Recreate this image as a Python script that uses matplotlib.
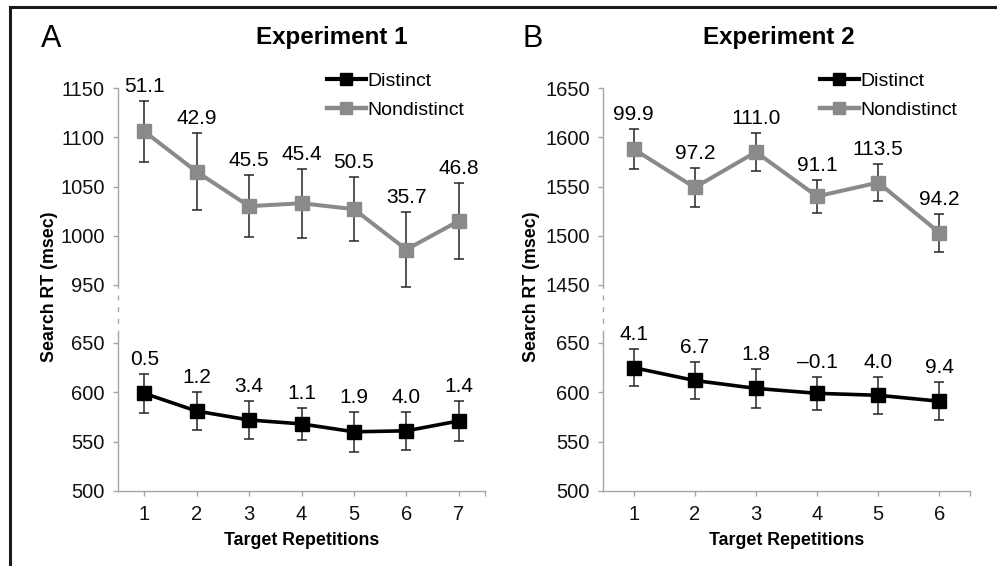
import matplotlib
matplotlib.use('Agg')
import matplotlib.pyplot as plt
from matplotlib.lines import Line2D

plt.rcParams['font.family'] = ['Liberation Sans', 'DejaVu Sans']

# ---------------- data ----------------
reps1 = [1, 2, 3, 4, 5, 6, 7]
e1_distinct = [599, 581, 572, 568, 560, 561, 571]
e1_distinct_err = [19.5, 19, 19.5, 16.5, 20, 19, 20.5]
e1_nondistinct = [1106, 1065, 1030, 1033, 1027, 986, 1015]
e1_nondistinct_err = [31, 39, 31.5, 35, 32.5, 38, 39]
e1_distinct_labels = ['0.5', '1.2', '3.4', '1.1', '1.9', '4.0', '1.4']
e1_nondistinct_labels = ['51.1', '42.9', '45.5', '45.4', '50.5', '35.7', '46.8']

reps2 = [1, 2, 3, 4, 5, 6]
e2_distinct = [625, 612, 604, 599, 597, 591]
e2_distinct_err = [19, 19, 19.5, 17, 19, 19.5]
e2_nondistinct = [1588, 1549, 1585, 1540, 1554, 1503]
e2_nondistinct_err = [20, 19.5, 19, 17, 19, 19]
e2_distinct_labels = ['4.1', '6.7', '1.8', '\u20130.1', '4.0', '9.4']
e2_nondistinct_labels = ['99.9', '97.2', '111.0', '91.1', '113.5', '94.2']

low_ticks = [500, 550, 600, 650]
e1_high_ticks = [950, 1000, 1050, 1100, 1150]
e2_high_ticks = [1450, 1500, 1550, 1600, 1650]

series_names = ['Distinct', 'Nondistinct']
titles = ['Experiment 1', 'Experiment 2']
letters = ['A', 'B']
xlabel = 'Target Repetitions'
ylabel = 'Search RT (msec)'

# ---------------- style ----------------
AX_GRAY = '#a6a6a6'
GRAY = '#8a8a8a'
BLACK = '#000000'
ERR = '#262626'
W_PX, H_PX = 997, 566

fig = plt.figure(figsize=(W_PX / 100, H_PX / 100), dpi=100)


def fx(px):
    return px / W_PX


def fy(py):
    return 1 - py / H_PX


def draw_series(ax, xs, ys, errs, labels, color, lw):
    ax.errorbar(xs, ys, yerr=errs, fmt='none', ecolor=ERR, elinewidth=1.1,
                capsize=3.3, capthick=1.1, zorder=2, clip_on=False)
    ax.plot(xs, ys, color=color, lw=lw, marker='s', ms=9.5, mfc=color,
            mec=color, zorder=3, clip_on=False)
    for x, y, e, s in zip(xs, ys, errs, labels):
        ax.annotate(s, (x, y + e), xytext=(0, 6.5), textcoords='offset points',
                    ha='center', va='baseline', fontsize=15,
                    annotation_clip=False)


def panel(left_px, reps, d, derr, dl, nd, nerr, nl, high_ticks, title,
          letter, letter_px, title_px, legend_px, ylab_px):
    x0 = fx(left_px)
    w = fx(367)
    top_px, brk_hi_px, bot_px = 88, 285, 491
    ax_b = fig.add_axes([x0, fy(bot_px), w, (bot_px - brk_hi_px) / H_PX])
    ax_t = fig.add_axes([x0, fy(brk_hi_px), w, (brk_hi_px - top_px) / H_PX])
    for ax in (ax_b, ax_t):
        ax.set_facecolor('none')
        ax.set_xlim(0.5, len(reps) + 0.5)
        for s in ('top', 'right'):
            ax.spines[s].set_visible(False)
        for s in ('left', 'bottom'):
            ax.spines[s].set_color(AX_GRAY)
            ax.spines[s].set_linewidth(1.0)
        ax.tick_params(axis='both', which='both', direction='out', length=3.5,
                       width=1.0, color=AX_GRAY, labelsize=14.5,
                       labelcolor='#111111', pad=6)
    # bottom (low) axes
    lo_top = 500 + (bot_px - brk_hi_px) * 150 / (bot_px - 343)
    ax_b.set_ylim(500, lo_top)
    ax_b.set_yticks(low_ticks)
    ax_b.spines['left'].set_bounds(500, 658)
    ax_b.set_xticks(reps)
    ax_b.set_xticks([len(reps) + 0.5], minor=True)
    ax_b.tick_params(axis='x', pad=6.5)
    ax_b.plot([0, 0], [658, lo_top], transform=ax_b.get_yaxis_transform(),
              color=AX_GRAY, lw=1.0, dashes=(3.6, 4.8), clip_on=False)
    ax_b.set_xlabel(xlabel, fontsize=12.8, fontweight='bold', labelpad=6)
    # top (high) axes
    ax_t.spines['bottom'].set_visible(False)
    ax_t.set_ylim(high_ticks[0], high_ticks[-1])
    ax_t.set_yticks(high_ticks)
    ax_t.set_xticks([])

    draw_series(ax_b, reps, d, derr, dl, BLACK, 2.6)
    draw_series(ax_t, reps, nd, nerr, nl, GRAY, 2.9)

    handles = [Line2D([], [], color=BLACK, lw=3.0, marker='s', ms=9),
               Line2D([], [], color=GRAY, lw=3.2, marker='s', ms=9)]
    ax_t.legend(handles, series_names, loc='upper left',
                bbox_to_anchor=(fx(legend_px), fy(72)),
                bbox_transform=fig.transFigure, frameon=False, fontsize=14,
                handlelength=2.0, handletextpad=0.1, labelspacing=0.62,
                borderpad=0, borderaxespad=0)

    fig.text(fx(letter_px), fy(39), letter, fontsize=22, ha='left', va='center')
    fig.text(fx(title_px), fy(37.5), title, fontsize=17.4, fontweight='bold',
             ha='center', va='center')
    fig.text(fx(ylab_px), fy(287), ylabel, fontsize=12.8, fontweight='bold',
             rotation=90, ha='center', va='center')


panel(118, reps1, e1_distinct, e1_distinct_err, e1_distinct_labels,
      e1_nondistinct, e1_nondistinct_err, e1_nondistinct_labels,
      e1_high_ticks, titles[0], letters[0], 41, 332, 327, 50)
panel(603, reps2, e2_distinct, e2_distinct_err, e2_distinct_labels,
      e2_nondistinct, e2_nondistinct_err, e2_nondistinct_labels,
      e2_high_ticks, titles[1], letters[1], 522, 779, 820, 531)

# outer frame (top and left edges)
fig.add_artist(Line2D([fx(10), 1.0], [fy(7), fy(7)], transform=fig.transFigure,
                      color='#1a1a1a', lw=2.2))
fig.add_artist(Line2D([fx(10), fx(10)], [fy(7), 0.0], transform=fig.transFigure,
                      color='#1a1a1a', lw=2.2))

fig.savefig('out.png', dpi=100)
